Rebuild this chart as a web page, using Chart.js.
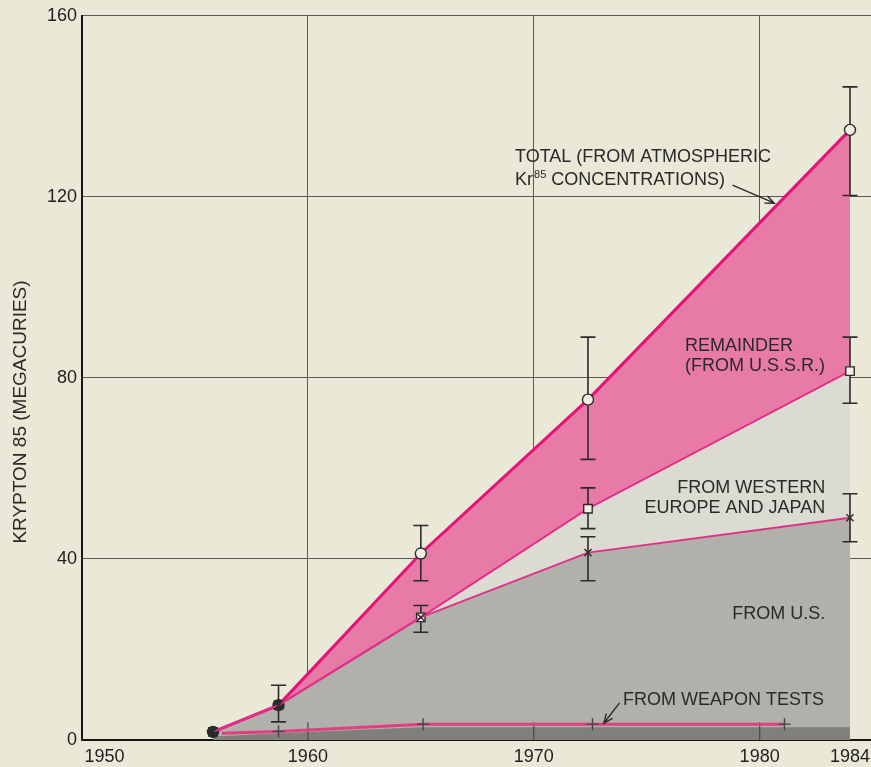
<!DOCTYPE html>
<html>
<head>
<meta charset="utf-8">
<title>Krypton 85 in the atmosphere</title>
<script src="https://cdn.jsdelivr.net/npm/chart.js@4/dist/chart.umd.min.js"></script>
<style>
  html, body { margin: 0; padding: 0; background: #eae8d7; }
  canvas { display: block; }
</style>
</head>
<body>
<canvas id="chart" width="871" height="767"></canvas>
<script>
// Measurement years (decimal years)
const years = [1955.8, 1958.7, 1965.0, 1972.4, 1984.0];

// Total krypton 85 from atmospheric concentrations (megacuries) and its uncertainty
const totalKr = [1.8, 7.7, 41.2, 75.2, 134.8];
const totalLow = [null, 4.0, 35.2, 62.0, 120.3];
const totalHigh = [null, 12.1, 47.4, 89.0, 144.3];

// Cumulative release from the U.S. plus Western Europe and Japan
const usEuropeJapan = [1.8, 7.7, 27.1, 51.1, 81.5];
const usEuropeJapanLow = [null, null, 23.8, 46.7, 74.4];
const usEuropeJapanHigh = [null, null, 29.7, 55.7, 89.0];

// Cumulative release from the U.S. alone
const usOnly = [1.8, 7.7, 27.1, 41.4, 49.1];
const usOnlyLow = [null, null, null, 35.2, 43.8];
const usOnlyHigh = [null, null, null, 44.9, 54.4];

// Contribution of nuclear weapon tests
const weaponYears = [1956.2, 1958.7, 1965.1, 1972.6, 1981.1];
const weaponTests = [1.5, 1.9, 3.5, 3.5, 3.5];
const weaponBandYears = [1955.8, 1958.7, 1965.0, 1984.0];
const weaponBand = [0.8, 1.5, 2.8, 2.8];

// Axis ticks
const yearTicks = [1950, 1960, 1970, 1980, 1984];
const gridYears = [1960, 1970, 1980];
const valueTicks = [0, 40, 80, 120, 160];

const INK = '#2b2b2b';
const CREAM = '#f1efe2';
const FONT = '"Liberation Sans", Arial, Helvetica, sans-serif';

const pts = (xs, ys) => xs.map((x, i) => ({ x, y: ys[i] }));

function errorBars(chart) {
  const { ctx, scales: { x, y } } = chart;
  const sets = [
    [totalLow, totalHigh],
    [usEuropeJapanLow, usEuropeJapanHigh],
    [usOnlyLow, usOnlyHigh]
  ];
  ctx.save();
  ctx.strokeStyle = INK;
  ctx.lineWidth = 1.6;
  sets.forEach(([lo, hi]) => {
    years.forEach((yr, i) => {
      if (lo[i] == null) return;
      const px = x.getPixelForValue(yr);
      const y0 = y.getPixelForValue(lo[i]);
      const y1 = y.getPixelForValue(hi[i]);
      ctx.beginPath();
      ctx.moveTo(px, y0); ctx.lineTo(px, y1);
      ctx.moveTo(px - 7.5, y0); ctx.lineTo(px + 7.5, y0);
      ctx.moveTo(px - 7.5, y1); ctx.lineTo(px + 7.5, y1);
      ctx.stroke();
    });
  });
  // grid lines showing through the weapon-test band
  ctx.strokeStyle = '#4a4a48';
  ctx.lineWidth = 1.2;
  gridYears.forEach(yr => {
    const px = x.getPixelForValue(yr);
    ctx.beginPath();
    ctx.moveTo(px, y.getPixelForValue(0));
    ctx.lineTo(px, y.getPixelForValue(3.9));
    ctx.stroke();
  });
  ctx.restore();
}

function arrow(ctx, x0, y0, x1, y1) {
  const a = Math.atan2(y1 - y0, x1 - x0);
  const h = 10;
  ctx.beginPath();
  ctx.moveTo(x0, y0); ctx.lineTo(x1, y1);
  ctx.moveTo(x1 - h * Math.cos(a - 0.4), y1 - h * Math.sin(a - 0.4));
  ctx.lineTo(x1, y1);
  ctx.lineTo(x1 - h * Math.cos(a + 0.4), y1 - h * Math.sin(a + 0.4));
  ctx.stroke();
}

const annotations = {
  id: 'annotations',
  afterDatasetDraw(chart, args) {
    if (chart.data.datasets[args.index].label === 'weaponFill') errorBars(chart);
  },
  afterDraw(chart) {
    const { ctx, scales: { x, y } } = chart;
    const X = v => x.getPixelForValue(v);
    const Y = v => y.getPixelForValue(v);
    ctx.save();
    ctx.fillStyle = '#2a2a2a';
    ctx.strokeStyle = '#2a2a2a';
    ctx.lineWidth = 1.4;
    ctx.textBaseline = 'middle';

    // y axis title
    ctx.save();
    ctx.font = '19px ' + FONT;
    ctx.translate(21, 412);
    ctx.rotate(-Math.PI / 2);
    ctx.textAlign = 'center';
    ctx.fillText('KRYPTON 85 (MEGACURIES)', 0, 0);
    ctx.restore();

    ctx.font = '18px ' + FONT;
    // total
    ctx.textAlign = 'left';
    const tx = X(1969.17);
    ctx.fillText('TOTAL (FROM ATMOSPHERIC', tx, Y(128.9));
    const ly = Y(123.8);
    ctx.fillText('Kr', tx, ly);
    let w = ctx.measureText('Kr').width;
    ctx.font = '11px ' + FONT;
    ctx.fillText('85', tx + w + 1, ly - 5);
    w += ctx.measureText('85').width + 1;
    ctx.font = '18px ' + FONT;
    ctx.fillText(' CONCENTRATIONS)', tx + w, ly);
    arrow(ctx, X(1978.8), Y(122.6), X(1980.65), Y(118.6));

    // remainder
    ctx.fillText('REMAINDER', X(1976.7), Y(87.0));
    ctx.fillText('(FROM U.S.S.R.)', X(1976.7), Y(82.6));

    // western europe and japan, U.S.
    ctx.textAlign = 'right';
    ctx.fillText('FROM WESTERN', X(1982.9), Y(55.7));
    ctx.fillText('EUROPE AND JAPAN', X(1982.9), Y(51.3));
    ctx.fillText('FROM U.S.', X(1982.9), Y(27.8));

    // weapon tests
    ctx.textAlign = 'left';
    ctx.fillText('FROM WEAPON TESTS', X(1973.95), Y(8.8));
    arrow(ctx, X(1973.8), Y(8.2), X(1973.1), Y(3.7));
    ctx.restore();
  }
};

const lineBase = { tension: 0, fill: false };
const fillBase = { tension: 0, borderWidth: 0, borderColor: 'rgba(0,0,0,0)', pointRadius: 0, fill: 'origin' };

new Chart(document.getElementById('chart'), {
  type: 'line',
  data: {
    datasets: [
      { ...lineBase, label: 'usOnlyLine', data: pts(years, usOnly), borderColor: '#e0318a', borderWidth: 2,
        pointStyle: 'crossRot', pointRadius: 5, pointBorderColor: INK, pointBorderWidth: 1.4, order: 1 },
      { ...lineBase, label: 'usEuropeJapanLine', data: pts(years, usEuropeJapan), borderColor: '#e0318a', borderWidth: 2,
        pointStyle: 'rect', pointRadius: 6, pointBackgroundColor: [INK, INK, CREAM, CREAM, CREAM],
        pointBorderColor: INK, pointBorderWidth: 1.4, order: 2 },
      { ...lineBase, label: 'totalLine', data: pts(years, totalKr), borderColor: '#e3137a', borderWidth: 3,
        pointStyle: 'circle', pointRadius: 5.5, pointBackgroundColor: [INK, INK, CREAM, CREAM, CREAM],
        pointBorderColor: INK, pointBorderWidth: 1.4, order: 3 },
      { ...lineBase, label: 'weaponLine', data: pts(weaponYears, weaponTests), borderColor: '#e0407f', borderWidth: 3,
        pointStyle: 'cross', pointRadius: [0, 6, 6, 6, 6], pointBorderColor: '#454545', pointBorderWidth: 1.4, order: 4 },
      { ...fillBase, label: 'weaponFill', data: pts(weaponBandYears, weaponBand), backgroundColor: '#807f7a', order: 5 },
      { ...fillBase, label: 'usFill', data: pts(years, usOnly), backgroundColor: '#b1b0aa', order: 6 },
      { ...fillBase, label: 'usEuropeJapanFill', data: pts(years, usEuropeJapan), backgroundColor: '#dcdbd2', order: 7 },
      { ...fillBase, label: 'totalFill', data: pts(years, totalKr), backgroundColor: '#e87ba5', order: 8 }
    ]
  },
  options: {
    responsive: false,
    devicePixelRatio: 1,
    animation: false,
    layout: { autoPadding: false, padding: { top: 14, left: 0, right: 0, bottom: 0 } },
    plugins: { legend: { display: false }, tooltip: { enabled: false } },
    scales: {
      x: {
        type: 'linear',
        min: 1950,
        max: 1984.93,
        afterBuildTicks: s => { s.ticks = yearTicks.map(v => ({ value: v })); },
        afterFit: s => { s.height = 27; s.paddingRight = 0; s.paddingLeft = 0; },
        ticks: {
          color: '#222',
          font: { family: FONT, size: 18 },
          padding: 6,
          maxRotation: 0,
          autoSkip: false,
          callback: v => (v === 1950 ? '         1950' : String(v))
        },
        grid: {
          drawTicks: false,
          lineWidth: 1,
          color: c => (c.tick && gridYears.includes(c.tick.value) ? '#5a5a57' : 'rgba(0,0,0,0)')
        },
        border: { display: true, color: '#151515', width: 2 }
      },
      y: {
        min: 0,
        max: 160,
        afterBuildTicks: s => { s.ticks = valueTicks.map(v => ({ value: v })); },
        afterFit: s => { s.width = 82; },
        ticks: {
          color: '#222',
          font: { family: FONT, size: 18 },
          padding: 5
        },
        grid: { drawTicks: false, lineWidth: 1, color: '#5a5a57' },
        border: { display: true, color: '#151515', width: 2 }
      }
    }
  },
  plugins: [annotations]
});
</script>
</body>
</html>
